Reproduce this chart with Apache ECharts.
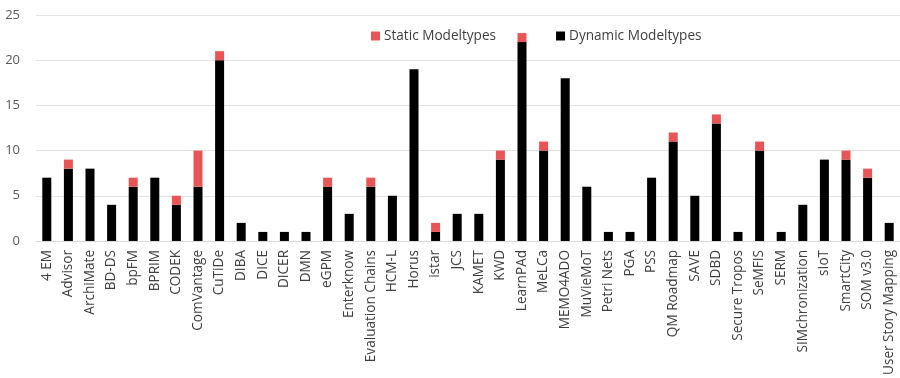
<!DOCTYPE html>
<html>
<head>
<meta charset="utf-8">
<script src="https://cdn.jsdelivr.net/npm/echarts@6/dist/echarts.min.js"></script>
<style>
  html, body { margin: 0; padding: 0; background: #fff; }
  #chart { width: 900px; height: 378px; }
</style>
</head>
<body>
<div id="chart"></div>
<script>
const categories = [
  '4 EM', 'Advisor', 'ArchiMate', 'BD-DS', 'bpFM', 'BPRIM', 'CODEK', 'ComVantage',
  'CuTiDe', 'DIBA', 'DICE', 'DICER', 'DMN', 'eGPM', 'Enterknow', 'Evaluation Chains',
  'HCM-L', 'Horus', 'istar', 'JCS', 'KAMET', 'KWD', 'LearnPAd', 'MeLCa', 'MEMO4ADO',
  'MuVieMoT', 'Petri Nets', 'PGA', 'PSS', 'QM Roadmap', 'SAVE', 'SDBD', 'Secure Tropos',
  'SeMFIS', 'SERM', 'SIMchronization', 'sIoT', 'SmartCity', 'SOM v3.0', 'User Story Mapping'
];
const dynamicModeltypes = [
  7, 8, 8, 4, 6, 7, 4, 6,
  20, 2, 1, 1, 1, 6, 3, 6,
  5, 19, 1, 3, 3, 9, 22, 10, 18,
  6, 1, 1, 7, 11, 5, 13, 1,
  10, 1, 4, 9, 9, 7, 2
];
const staticModeltypes = [
  0, 1, 0, 0, 1, 0, 1, 4,
  1, 0, 0, 0, 0, 1, 0, 1,
  0, 0, 1, 0, 0, 1, 1, 1, 0,
  0, 0, 0, 0, 1, 0, 1, 0,
  1, 0, 0, 0, 1, 1, 0
];
const yTicks = [0, 5, 10, 15, 20, 25];

const fontFamily = '"Open Sans", "Liberation Sans", sans-serif';
const chart = echarts.init(document.getElementById('chart'));
chart.setOption({
  animation: false,
  grid: { left: 36, top: 15, width: 865, height: 226, containLabel: false },
  legend: {
    top: 24,
    left: 366,
    itemWidth: 9,
    itemHeight: 9,
    itemGap: 60,
    itemStyle: { borderWidth: 0 },
    icon: 'rect',
    textStyle: { fontFamily, fontSize: 13.6, color: '#404040', padding: [0, 0, 0, -1] },
    data: ['Static Modeltypes', 'Dynamic Modeltypes']
  },
  xAxis: {
    type: 'category',
    data: categories,
    axisLine: { lineStyle: { color: '#d9d9d9' } },
    axisTick: { show: false },
    axisLabel: {
      rotate: 90,
      interval: 0,
      margin: 9,
      fontFamily,
      fontSize: 13.6,
      color: '#404040'
    }
  },
  yAxis: {
    type: 'value',
    min: yTicks[0],
    max: yTicks[yTicks.length - 1],
    interval: 5,
    axisLine: { show: false },
    axisTick: { show: false },
    splitLine: { lineStyle: { color: '#e3e3e3' } },
    axisLabel: { fontFamily, fontSize: 13, color: '#595959', margin: 16 }
  },
  series: [
    {
      name: 'Dynamic Modeltypes',
      type: 'bar',
      stack: 'total',
      barWidth: 9,
      itemStyle: { color: '#000000' },
      data: dynamicModeltypes
    },
    {
      name: 'Static Modeltypes',
      type: 'bar',
      stack: 'total',
      barWidth: 9,
      itemStyle: { color: '#e95556' },
      data: staticModeltypes
    }
  ]
});
</script>
</body>
</html>
